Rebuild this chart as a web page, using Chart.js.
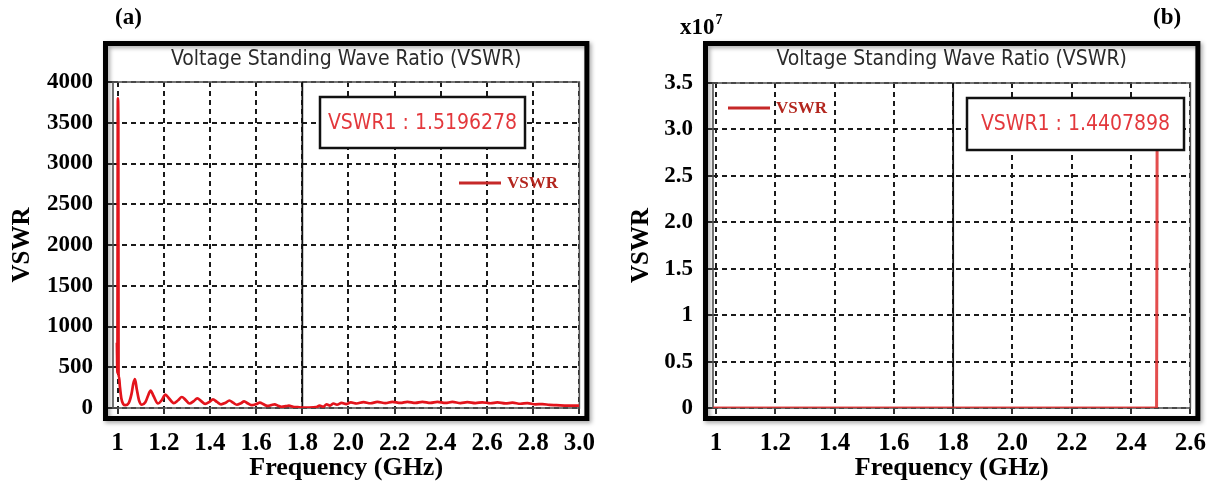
<!DOCTYPE html>
<html>
<head>
<meta charset="utf-8">
<script src="https://cdn.jsdelivr.net/npm/chart.js@4.4.1/dist/chart.umd.min.js"></script>
<style>
  html, body { margin: 0; padding: 0; background: #fff; }
  #wrap { position: relative; width: 1221px; height: 496px; overflow: hidden; }
  canvas { position: absolute; top: 0; }
  #chartA { left: 0; }
  #chartB { left: 610px; }
</style>
</head>
<body>
<div id="wrap">
  <canvas id="chartA" width="610" height="496"></canvas>
  <canvas id="chartB" width="611" height="496"></canvas>
</div>
<script>
const SERIF = "'Liberation Serif', 'Times New Roman', serif";
const SANS = "'DejaVu Sans Condensed', 'DejaVu Sans', sans-serif";

const chartTitle = "Voltage Standing Wave Ratio (VSWR)";
const seriesName = "VSWR";
const xAxisTitle = "Frequency (GHz)";
const yAxisTitle = "VSWR";
const markerFreq = 1.8;

// panel (a)
const freqA = [0.997, 0.999, 1.001, 1.003, 1.004, 1.006, 1.010, 1.016, 1.024, 1.034, 1.048, 1.060, 1.068, 1.075,
  1.083, 1.093, 1.105, 1.120, 1.133, 1.143, 1.155, 1.175, 1.192, 1.207, 1.222, 1.243, 1.262, 1.278, 1.294, 1.311,
  1.330, 1.345, 1.362, 1.379, 1.398, 1.413, 1.430, 1.448, 1.468, 1.484, 1.500, 1.516, 1.534, 1.548, 1.565, 1.582,
  1.600, 1.616, 1.632, 1.648, 1.665, 1.680, 1.695, 1.710, 1.728, 1.742, 1.760, 1.780, 1.800, 1.830, 1.860, 1.875,
  1.890, 1.905, 1.920, 1.935, 1.950, 1.970, 1.990, 2.010, 2.035, 2.065, 2.095, 2.125, 2.160, 2.190, 2.225, 2.255,
  2.290, 2.320, 2.355, 2.385, 2.420, 2.450, 2.485, 2.515, 2.550, 2.580, 2.615, 2.645, 2.680, 2.710, 2.745, 2.775,
  2.810, 2.840, 2.870, 2.900, 2.950, 3.000];
const vswrA = [800, 430, 3800, 3500, 420, 380, 260, 120, 50, 35, 60, 170, 300, 355,
  230, 90, 40, 70, 160, 215, 150, 55, 100, 165, 120, 60, 95, 135, 100, 55,
  85, 118, 85, 50, 75, 105, 75, 45, 65, 92, 65, 40, 58, 82, 55, 35,
  48, 65, 45, 25, 35, 45, 28, 15, 22, 28, 15, 10, 5, 5, 10, 30,
  15, 45, 30, 55, 40, 62, 48, 68, 55, 72, 58, 74, 60, 75, 62, 76,
  63, 76, 63, 75, 62, 74, 61, 72, 60, 70, 58, 68, 56, 65, 52, 60,
  45, 48, 38, 35, 30, 30];
const xTicksA = [1, 1.2, 1.4, 1.6, 1.8, 2.0, 2.2, 2.4, 2.6, 2.8, 3.0];
const xTickLabelsA = ["1", "1.2", "1.4", "1.6", "1.8", "2.0", "2.2", "2.4", "2.6", "2.8", "3.0"];
const yTicksA = [0, 500, 1000, 1500, 2000, 2500, 3000, 3500, 4000];
const yTickLabelsA = ["0", "500", "1000", "1500", "2000", "2500", "3000", "3500", "4000"];
const markerTextA = "VSWR1 : 1.5196278";

// panel (b)
const freqB = [0.99, 1.2, 1.4, 1.6, 1.8, 2.0, 2.2, 2.4, 2.486, 2.488];
const vswrB = [1.44, 1.44, 1.44, 1.44, 1.44, 1.44, 1.44, 1.44, 1.44, 3.3e7];
const xTicksB = [1, 1.2, 1.4, 1.6, 1.8, 2.0, 2.2, 2.4, 2.6];
const xTickLabelsB = ["1", "1.2", "1.4", "1.6", "1.8", "2.0", "2.2", "2.4", "2.6"];
const yTicksB = [0, 0.5e7, 1e7, 1.5e7, 2e7, 2.5e7, 3e7, 3.5e7];
const yTickLabelsB = ["0", "0.5", "1", "1.5", "2.0", "2.5", "3.0", "3.5"];
const markerTextB = "VSWR1 : 1.4407898";

const panelDecor = {
  id: "panelDecor",
  beforeDatasetsDraw(chart, args, o) {
    const { ctx, chartArea: ca } = chart;
    const mx = chart.scales.x.getPixelForValue(markerFreq);
    ctx.save();
    ctx.strokeStyle = "#555";
    ctx.lineWidth = 1.6;
    ctx.strokeRect(ca.left, ca.top, ca.width, ca.height);
    ctx.strokeStyle = "#111";
    ctx.lineWidth = 1.8;
    ctx.beginPath();
    ctx.moveTo(mx, ca.top);
    ctx.lineTo(mx, ca.bottom);
    ctx.stroke();
    ctx.restore();
  },
  afterDraw(chart, args, o) {
    const { ctx, chartArea: ca } = chart;
    ctx.save();

    // outer black frame with a soft shadow
    const fl = ca.left - 10, fr = ca.right + 10, ft = 41, fb = ca.bottom + 13;
    ctx.shadowColor = "rgba(0,0,0,0.35)";
    ctx.shadowBlur = 4;
    ctx.shadowOffsetX = 2;
    ctx.shadowOffsetY = 2;
    ctx.strokeStyle = "#000";
    ctx.lineWidth = 5;
    ctx.strokeRect(fl + 2.5, ft + 2.5, fr - fl - 5, fb - ft - 5);
    ctx.shadowColor = "transparent";

    // marker readout
    const b = o.box;
    ctx.fillStyle = "#fff";
    ctx.fillRect(b.x, b.y, b.w, b.h);
    ctx.strokeStyle = "#111";
    ctx.lineWidth = 2.5;
    ctx.strokeRect(b.x, b.y, b.w, b.h);
    ctx.fillStyle = "#e3383c";
    ctx.font = `21px ${SANS}`;
    ctx.textAlign = "center";
    ctx.textBaseline = "middle";
    ctx.fillText(o.markerText, b.x + b.w / 2, b.y + b.h / 2 + 1);

    // legend
    const ds = chart.data.datasets[0];
    const lg = o.legend;
    ctx.strokeStyle = "#c62828";
    ctx.lineWidth = 3;
    ctx.beginPath();
    ctx.moveTo(lg.x, lg.y);
    ctx.lineTo(lg.x + 42, lg.y);
    ctx.stroke();
    ctx.fillStyle = "#b3261e";
    ctx.font = `bold 17px ${SERIF}`;
    ctx.textAlign = "left";
    ctx.fillText(ds.label, lg.x + 48, lg.y + 1);

    // panel letter
    ctx.fillStyle = "#000";
    ctx.font = `bold 23px ${SERIF}`;
    ctx.fillText(o.panel, o.panelX, 18);

    if (o.exponent) {
      ctx.font = `bold 23px ${SERIF}`;
      ctx.fillText("x10", o.exponent.x, 28);
      const w = ctx.measureText("x10").width;
      ctx.font = `bold 14px ${SERIF}`;
      ctx.fillText(o.exponent.power, o.exponent.x + w + 1, 20);
    }
    ctx.restore();
  }
};

const gridStyle = { color: "#1a1a1a", lineWidth: 2, tickLength: 6, tickColor: "#333", borderDash: [5, 4], tickBorderDash: [] };

function buildChart(id, p) {
  return new Chart(document.getElementById(id), {
    type: "line",
    data: {
      datasets: [{
        label: seriesName,
        data: p.freq.map((f, i) => ({ x: f, y: p.vals[i] })),
        borderColor: p.color,
        borderWidth: p.lineWidth,
        pointRadius: 0,
        cubicInterpolationMode: "monotone",
        fill: false
      }]
    },
    options: {
      responsive: false,
      animation: false,
      devicePixelRatio: 1,
      layout: { padding: { left: 0, right: p.padRight, top: 0, bottom: 0 } },
      plugins: {
        legend: { display: false },
        tooltip: { enabled: false },
        title: {
          display: true,
          fullSize: false,
          text: chartTitle,
          color: "#2b2b2b",
          font: { family: SANS, size: 21, weight: "normal", lineHeight: 1.2 },
          padding: { top: 47.4, bottom: p.titlePadBottom }
        },
        panelDecor: p.decor
      },
      scales: {
        x: {
          type: "linear",
          min: p.xMin,
          max: p.xMax,
          afterBuildTicks: (s) => { s.ticks = p.xTicks.map((v) => ({ value: v })); },
          afterFit: (s) => { s.height = 88; },
          ticks: {
            callback: (v, i) => p.xLabels[i],
            color: "#000",
            font: { family: SERIF, size: 25, weight: "bold" },
            padding: 15,
            maxRotation: 0,
            autoSkip: false
          },
          grid: gridStyle,
          border: { display: false, dash: [5, 4] },
          title: {
            display: true,
            text: xAxisTitle,
            color: "#000",
            font: { family: SERIF, size: 26, weight: "bold", lineHeight: 1.2 },
            padding: { top: 0, bottom: 12.4 }
          }
        },
        y: {
          min: 0,
          max: p.yMax,
          afterBuildTicks: (s) => { s.ticks = p.yTicks.map((v) => ({ value: v })); },
          afterFit: (s) => { s.width = p.yWidth; },
          ticks: {
            callback: (v, i) => p.yLabels[i],
            color: "#000",
            font: { family: SERIF, size: 23, weight: "bold" },
            padding: 14,
            autoSkip: false
          },
          grid: gridStyle,
          border: { display: false, dash: [5, 4] },
          title: {
            display: true,
            text: yAxisTitle,
            color: "#000",
            font: { family: SERIF, size: 25, weight: "bold", lineHeight: 1.2 },
            padding: { top: p.yTitlePad, bottom: 0 }
          }
        }
      }
    },
    plugins: [panelDecor]
  });
}

buildChart("chartA", {
  freq: freqA, vals: vswrA, color: "#e3141c", lineWidth: 2.7,
  xMin: 0.98, xMax: 3.0, xTicks: xTicksA, xLabels: xTickLabelsA,
  yMax: 4000, yTicks: yTicksA, yLabels: yTickLabelsA,
  yWidth: 113, yTitlePad: 8, padRight: 21, titlePadBottom: 9.4,
  decor: {
    markerText: markerTextA,
    box: { x: 320, y: 97, w: 205, h: 51 },
    legend: { x: 459, y: 183 },
    panel: "(a)", panelX: 115
  }
});

buildChart("chartB", {
  freq: freqB, vals: vswrB, color: "rgba(222,46,46,0.85)", lineWidth: 3,
  xMin: 0.99, xMax: 2.6, xTicks: xTicksB, xLabels: xTickLabelsB,
  yMax: 3.5e7, yTicks: yTicksB, yLabels: yTickLabelsB,
  yWidth: 103, yTitlePad: 17, padRight: 29, titlePadBottom: 10.4,
  decor: {
    markerText: markerTextB,
    box: { x: 357, y: 98, w: 217, h: 52 },
    legend: { x: 118, y: 108 },
    panel: "(b)", panelX: 543,
    exponent: { x: 70, power: "7" }
  }
});
</script>
</body>
</html>
